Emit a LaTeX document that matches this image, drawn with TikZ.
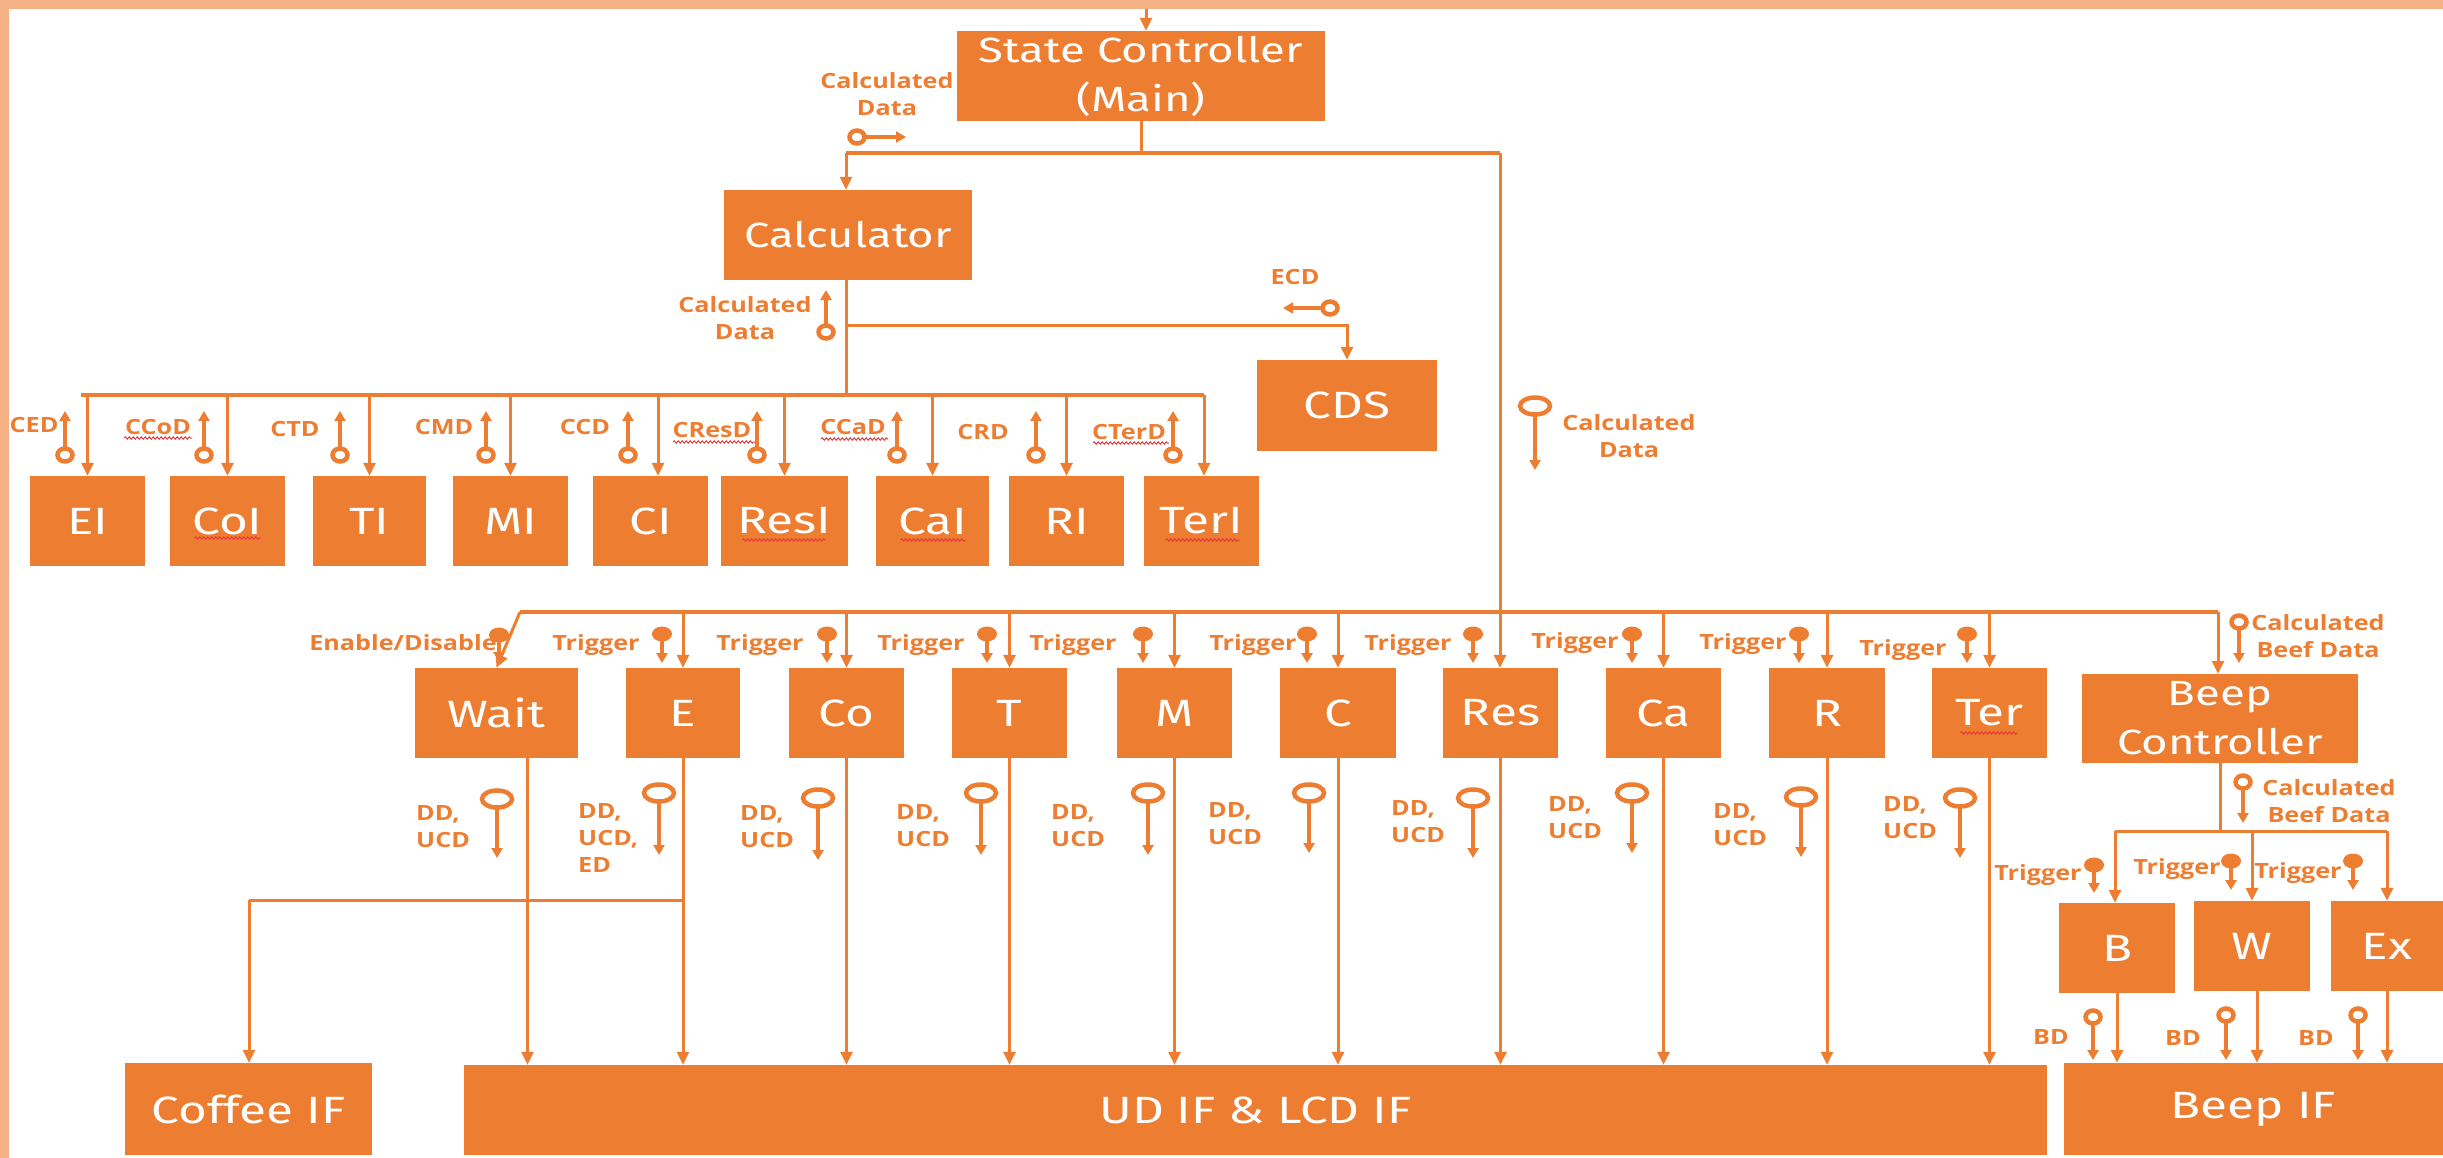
\documentclass[tikz,border=0pt]{standalone}
\usepackage{fontspec}
\setmainfont{Open Sans}[FakeStretch=1.2]
\newfontfamily\boxfont{Fira Sans}[FakeStretch=1.3]
\usetikzlibrary{arrows.meta,calc,decorations.pathmorphing}
\definecolor{orng}{HTML}{ED7D31}
\definecolor{framec}{HTML}{F4B183}
\definecolor{spellc}{HTML}{E83A3A}
\newcommand\bx[7]{\node[box,#7,minimum width={(#4-#2)*1pt},minimum height={(#5-#3)*1pt}] (#1) at ({(#2+#4)/2},{(#3+#5)/2}) {#6};}
\newcommand\ringdown[3]{\draw[symline] (#1,#2+6) -- (#1,#3); \draw[symring] (#1,#2) ellipse[x radius=7.5pt,y radius=6.5pt];}
\newcommand\bigringdown[3]{\draw[symline] (#1,#2+8) -- (#1,#3); \draw[symring] (#1,#2) ellipse[x radius=15pt,y radius=8.5pt];}
\newcommand\ringup[3]{\draw[symline] (#1,#2-6) -- (#1,#3); \draw[symring] (#1,#2) ellipse[x radius=7.5pt,y radius=6.5pt];}
\newcommand\ringright[3]{\draw[symline] (#1+7,#2) -- (#3,#2); \draw[symring] (#1,#2) ellipse[x radius=7.5pt,y radius=6.5pt];}
\newcommand\ringleft[3]{\draw[symline] (#1-7,#2) -- (#3,#2); \draw[symring] (#1,#2) ellipse[x radius=7.5pt,y radius=6.5pt];}
\newcommand\trig[3]{\draw[symline] (#1,#2) -- (#1,#3); \fill[orng] (#1,#2) ellipse[x radius=10pt,y radius=7.5pt];}
\begin{document}
\begin{tikzpicture}[x=1pt,y=-1pt,
  box/.style={fill=orng,draw=none,text=white,inner sep=0pt,align=center},
  bigA/.style={font=\boxfont\fontsize{35}{49}\selectfont},
  bigB/.style={font=\boxfont\fontsize{38}{48}\selectfont},
  conn/.style={draw=orng,line width=3pt},
  bus/.style={draw=orng,line width=4pt},
  arr/.style={conn,-{Triangle[length=13pt,width=12pt]}},
  symline/.style={draw=orng,line width=3.5pt,-{Triangle[length=10pt,width=11pt]}},
  symring/.style={draw=orng,line width=4.5pt},
  lbl/.style={text=orng,inner sep=0pt,align=center,font=\bfseries\fontsize{21}{27}\selectfont},
  lblw/.style={lbl,align=left,anchor=west},
  spellw/.style={draw=spellc,line width=1pt,decorate,decoration={snake,segment length=4pt,amplitude=1.2pt}},
]
\useasboundingbox (0,0) rectangle (2443,1158);
\fill[framec] (0,0) rectangle (2443,9);
\fill[framec] (0,0) rectangle (9,1158);

% ---------- boxes ----------
\bx{sc}{957}{31}{1325}{121}{State Controller\\(Main)}{bigA}
\bx{Calc}{724}{190}{972}{280}{Calculator}{bigA}
\bx{CDS}{1257}{360}{1437}{451}{CDS}{bigB}
\bx{EI}{30}{476}{145}{566}{EI}{bigB}
\bx{CoI}{170}{476}{285}{566}{CoI}{bigB}
\bx{TI}{313}{476}{426}{566}{TI}{bigB}
\bx{MI}{453}{476}{568}{566}{MI}{bigB}
\bx{CI}{593}{476}{708}{566}{CI}{bigB}
\bx{ResI}{721}{476}{848}{566}{ResI}{bigB}
\bx{CaI}{876}{476}{989}{566}{CaI}{bigB}
\bx{RI}{1009}{476}{1124}{566}{RI}{bigB}
\bx{TerI}{1144}{476}{1259}{566}{TerI}{bigB}
\bx{Wait}{415}{668}{578}{758}{Wait}{bigB}
\bx{E}{626}{668}{740}{758}{E}{bigB}
\bx{Co}{789}{668}{904}{758}{Co}{bigB}
\bx{T}{952}{668}{1067}{758}{T}{bigB}
\bx{M}{1117}{668}{1232}{758}{M}{bigB}
\bx{C}{1280}{668}{1396}{758}{C}{bigB}
\bx{Res}{1443}{668}{1558}{758}{Res}{bigB}
\bx{Ca}{1606}{668}{1721}{758}{Ca}{bigB}
\bx{R}{1769}{668}{1885}{758}{R}{bigB}
\bx{Ter}{1932}{668}{2047}{758}{Ter}{bigB}
\bx{BC}{2082}{674}{2358}{763}{Beep\\Controller}{bigA}
\bx{B}{2059}{903}{2175}{993}{B}{bigB}
\bx{W}{2194}{901}{2310}{991}{W}{bigB}
\bx{Ex}{2331}{901}{2443}{991}{Ex}{bigB}
\bx{CoffeeIF}{125}{1063}{372}{1155}{Coffee IF}{bigB}
\bx{UD}{464}{1065}{2047}{1155}{UD IF \& LCD IF}{bigB}
\bx{BIF}{2064}{1063}{2443}{1155}{Beep IF}{bigB}

% ---------- top part ----------
\coordinate (topin) at (1146,9);
\draw[arr] (topin) -- (topin |- sc.north);
\coordinate (j0) at (846,153);
\coordinate (j1) at (1500,153);
\draw[conn] (sc.south) -- (sc.south |- j0);
\draw[bus] (j0) -- (j1);
\draw[arr] (j0) -- (j0 |- Calc.north);
\draw[arr] (j1) -- (j1 |- Res.north);

% calculator outputs
\coordinate (b1L) at (81,395);
\coordinate (b1R) at (1204,395);
\coordinate (cds0) at (846,325);
\draw[conn] (j0 |- Calc.south) -- (j0 |- b1L);
\draw[arr] (cds0) -| (CDS.north);
\draw[bus] (b1L) -- (b1R);
\foreach \n in {EI,CoI,TI,MI,ResI,CaI,RI}{\draw[arr] (\n.north |- b1L) -- (\n.north);}
\coordinate (ci0) at (658,395);
\coordinate (ter0) at (1204,395);
\draw[arr] (ci0) -- (ci0 |- CI.north);
\draw[arr] (ter0) -- (ter0 |- TerI.north);

% ---------- second bus ----------
\coordinate (b2L) at (520,612);
\coordinate (b2R) at (2218,612);
\draw[bus] (b2L) -- (b2R);
\draw[arr] (b2L) -- (Wait.north);
\foreach \n in {E,Co,T,M,C,Ca,R,Ter}{\draw[arr] (\n.north |- b2L) -- (\n.north);}
\draw[arr] (b2R) -- (b2R |- BC.north);

% row 2 to interfaces
\coordinate (w1) at ($(Wait.south)+(31,0)$);
\draw[arr] (w1) -- (w1 |- UD.north);
\foreach \n in {E,Co,T,M,C,Res,Ca,R,Ter}{\draw[arr] (\n.south) -- (\n.south |- UD.north);}
\coordinate (cf) at (249,900);
\draw[conn] (cf) -- (E.south |- cf);
\draw[arr] (cf) -- (cf |- CoffeeIF.north);

% beep part
\coordinate (bcL) at (2115,831);
\coordinate (bcR) at (2387,831);
\draw[conn] (BC.south) -- (BC.south |- bcL);
\draw[conn] (bcL) -- (bcR);
\draw[arr] (bcL) -- (bcL |- B.north);
\draw[arr] (W.north |- bcL) -- (W.north);
\draw[arr] (bcR) -- (bcR |- Ex.north);
\draw[arr] (B.south) -- (B.south |- BIF.north);
\coordinate (w2) at ($(W.south)+(5,0)$);
\draw[arr] (w2) -- (w2 |- BIF.north);
\draw[arr] (Ex.south) -- (Ex.south |- BIF.north);

% ---------- symbols ----------
\ringright{857}{137}{906}
\ringleft{1330}{308}{1283}
\ringup{826}{332}{290}
\bigringdown{1535}{406}{470}
\foreach \x in {65,204,340,486,628,757,897,1036,1173}{\ringup{\x}{455}{411}}
\trig{499}{635}{662}
\foreach \x in {662,827,987,1143,1307,1473,1632,1799,1967}{\trig{\x}{634}{663}}
\bigringdown{497}{799}{858}
\bigringdown{659}{793}{855}
\bigringdown{818}{798}{860}
\bigringdown{981}{793}{855}
\bigringdown{1148}{793}{855}
\bigringdown{1309}{793}{853}
\bigringdown{1473}{798}{858}
\bigringdown{1632}{793}{853}
\bigringdown{1801}{797}{857}
\bigringdown{1960}{798}{858}
\ringdown{2239}{622}{663}
\ringdown{2243}{782}{823}
\trig{2094}{865}{893}
\trig{2231}{861}{890}
\trig{2353}{861}{890}
\ringdown{2093}{1017}{1060}
\ringdown{2226}{1015}{1060}
\ringdown{2358}{1015}{1060}

% ---------- labels ----------
\node[lbl] (lcd1) at (887,94) {Calculated\\Data};
\node[lbl] (lcd2) at (745,318) {Calculated\\Data};
\node[lbl] (lecd) at (1295,277) {ECD};
\node[lbl] (lcd3) at (1629,436) {Calculated\\Data};
\node[lbl] (lCED) at (34,425) {CED};
\node[lbl] (lCCoD) at (158,427) {CCoD};
\node[lbl] (lCTD) at (295,429) {CTD};
\node[lbl] (lCMD) at (444,427) {CMD};
\node[lbl] (lCCD) at (585,427) {CCD};
\node[lbl] (lCResD) at (712,430) {CResD};
\node[lbl] (lCCaD) at (853,427) {CCaD};
\node[lbl] (lCRD) at (983,432) {CRD};
\node[lbl] (lCTerD) at (1129,432) {CTerD};
\node[lbl] (len) at (403,643) {Enable/Disable};
\node[lbl] (tE) at (596,645) {Trigger};
\node[lbl] (tCo) at (760,645) {Trigger};
\node[lbl] (tT) at (921,645) {Trigger};
\node[lbl] (tM) at (1073,645) {Trigger};
\node[lbl] (tC) at (1253,645) {Trigger};
\node[lbl] (tRes) at (1408,645) {Trigger};
\node[lbl] (tCa) at (1575,643) {Trigger};
\node[lbl] (tR) at (1743,644) {Trigger};
\node[lbl] (tTer) at (1903,650) {Trigger};
\node[lblw] (dWait) at (416,827) {DD,\\UCD};
\node[lblw] (dE) at (578,838) {DD,\\UCD,\\ED};
\node[lblw] (dCo) at (740,827) {DD,\\UCD};
\node[lblw] (dT) at (896,826) {DD,\\UCD};
\node[lblw] (dM) at (1051,826) {DD,\\UCD};
\node[lblw] (dC) at (1208,824) {DD,\\UCD};
\node[lblw] (dRes) at (1391,822) {DD,\\UCD};
\node[lblw] (dCa) at (1548,818) {DD,\\UCD};
\node[lblw] (dR) at (1713,825) {DD,\\UCD};
\node[lblw] (dTer) at (1883,818) {DD,\\UCD};
\node[lbl] (lbd1) at (2318,636) {Calculated\\Beef Data};
\node[lbl] (lbd2) at (2329,801) {Calculated\\Beef Data};
\node[lbl] (tB) at (2038,875) {Trigger};
\node[lbl] (tW) at (2177,869) {Trigger};
\node[lbl] (tEx) at (2298,873) {Trigger};
\node[lbl] (bd1) at (2051,1037) {BD};
\node[lbl] (bd2) at (2183,1038) {BD};
\node[lbl] (bd3) at (2316,1038) {BD};

% ---------- spell-check underlines ----------
\draw[spellw] ($(CoI)+(-33,17)$) -- ($(CoI)+(33,17)$);
\draw[spellw] ($(ResI)+(-42,19)$) -- ($(ResI)+(41,19)$);
\draw[spellw] ($(CaI)+(-32,19)$) -- ($(CaI)+(33,19)$);
\draw[spellw] ($(TerI)+(-36,19)$) -- ($(TerI)+(38,19)$);
\draw[spellw] ($(Ter)+(-29,20)$) -- ($(Ter)+(28,20)$);
\draw[spellw] ($(lCCoD)+(-34,11)$) -- ($(lCCoD)+(34,11)$);
\draw[spellw] ($(lCResD)+(-39,12)$) -- ($(lCResD)+(43,12)$);
\draw[spellw] ($(lCCaD)+(-32,12)$) -- ($(lCCaD)+(35,12)$);
\draw[spellw] ($(lCTerD)+(-36,11)$) -- ($(lCTerD)+(40,11)$);
\end{tikzpicture}
\end{document}
